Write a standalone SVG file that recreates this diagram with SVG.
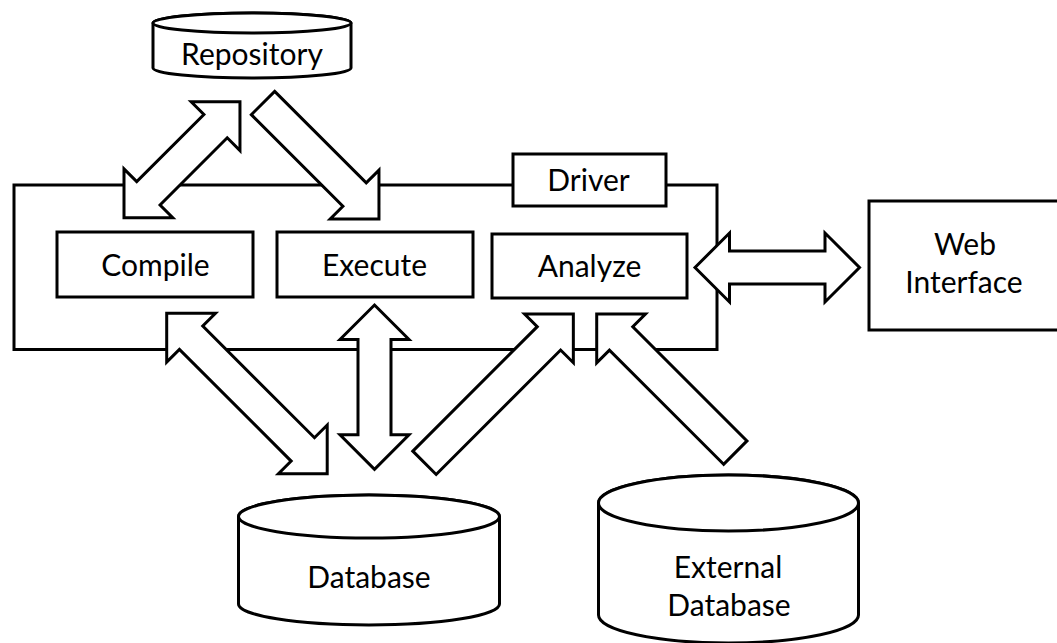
<svg xmlns="http://www.w3.org/2000/svg" width="1057" height="643" viewBox="0 0 1057 643">
<style>
.sh{fill:#fff;stroke:#000;stroke-width:3;stroke-linejoin:miter}
.ln{fill:none;stroke:#000;stroke-width:3}
.t{font-family:Lato,"Open Sans",sans-serif;font-size:30px;fill:#000;text-anchor:middle}
</style>
<rect width="1057" height="643" fill="#fff"/>
<g id="driver">
<path class="ln" d="M513,185 H14 V349.5 H717 V185 H666"/>
<rect class="sh" x="513" y="154" width="153" height="52"/>
<text class="t" x="588.5" y="191">Driver</text>
</g>
<g id="repository">
<path class="sh" d="M153,23 L153,68 A99,10 0 0 0 351,68 L351,23 A99,10 0 0 0 153,23 Z"/>
<ellipse class="sh" cx="252" cy="23" rx="99" ry="10"/>
<text class="t" x="252" y="65">Repository</text>
</g>
<g id="compile">
<rect class="sh" x="57" y="232" width="196" height="65"/>
<text class="t" x="155.5" y="276">Compile</text>
</g>
<g id="execute">
<rect class="sh" x="277" y="232" width="196" height="65"/>
<text class="t" x="374.5" y="276">Execute</text>
</g>
<g id="analyze">
<rect class="sh" x="492" y="234" width="195" height="64"/>
<text class="t" x="589.5" y="277">Analyze</text>
</g>
<g id="web-interface">
<rect class="sh" x="869" y="201" width="200" height="129"/>
<text class="t" x="965" y="255">Web</text>
<text class="t" x="964" y="293">Interface</text>
</g>
<g id="database">
<path class="sh" d="M238.5,516.5 L238.5,604 A130.5,21 0 0 0 499.5,604 L499.5,516.5 A130.5,21.5 0 0 0 238.5,516.5 Z"/>
<ellipse class="sh" cx="369" cy="516.5" rx="130.5" ry="21.5"/>
<text class="t" x="369" y="588">Database</text>
</g>
<g id="external-database">
<path class="sh" d="M598.5,503 L598.5,615 A130,28 0 0 0 858.5,615 L858.5,503 A130,28 0 0 0 598.5,503 Z"/>
<ellipse class="sh" cx="728.5" cy="503" rx="130" ry="28"/>
<text class="t" x="728" y="578">External</text>
<text class="t" x="729" y="616">Database</text>
</g>
<g id="connectors">
<path class="sh" transform="translate(124,217.7) rotate(-45)" d="M0,0 L34.5,-34.5 L34.5,-16.5 L129.5,-16.5 L129.5,-34.5 L164,0 L129.5,34.5 L129.5,16.5 L34.5,16.5 L34.5,34.5 Z"/>
<path class="sh" transform="translate(263,103) rotate(45)" d="M0,-16.5 L129.5,-16.5 L129.5,-34.5 L164,0 L129.5,34.5 L129.5,16.5 L0,16.5 Z"/>
<path class="sh" transform="translate(695,267.5)" d="M0,0 L34.5,-34.5 L34.5,-16.5 L130,-16.5 L130,-34.5 L164.5,0 L130,34.5 L130,16.5 L34.5,16.5 L34.5,34.5 Z"/>
<path class="sh" transform="translate(166.7,313.3) rotate(45)" d="M0,0 L34.5,-34.5 L34.5,-16.5 L192.5,-16.5 L192.5,-34.5 L227,0 L192.5,34.5 L192.5,16.5 L34.5,16.5 L34.5,34.5 Z"/>
<path class="sh" transform="translate(374.5,305) rotate(90)" d="M0,0 L34.5,-34.5 L34.5,-16.5 L129.8,-16.5 L129.8,-34.5 L164.3,0 L129.8,34.5 L129.8,16.5 L34.5,16.5 L34.5,34.5 Z"/>
<path class="sh" transform="translate(424.5,462.8) rotate(-45)" d="M0,-16.5 L176,-16.5 L176,-34.5 L210.5,0 L176,34.5 L176,16.5 L0,16.5 Z"/>
<path class="sh" transform="translate(735.3,452.6) rotate(-135)" d="M0,-16.5 L161.5,-16.5 L161.5,-34.5 L196,0 L161.5,34.5 L161.5,16.5 L0,16.5 Z"/>
</g>
</svg>
